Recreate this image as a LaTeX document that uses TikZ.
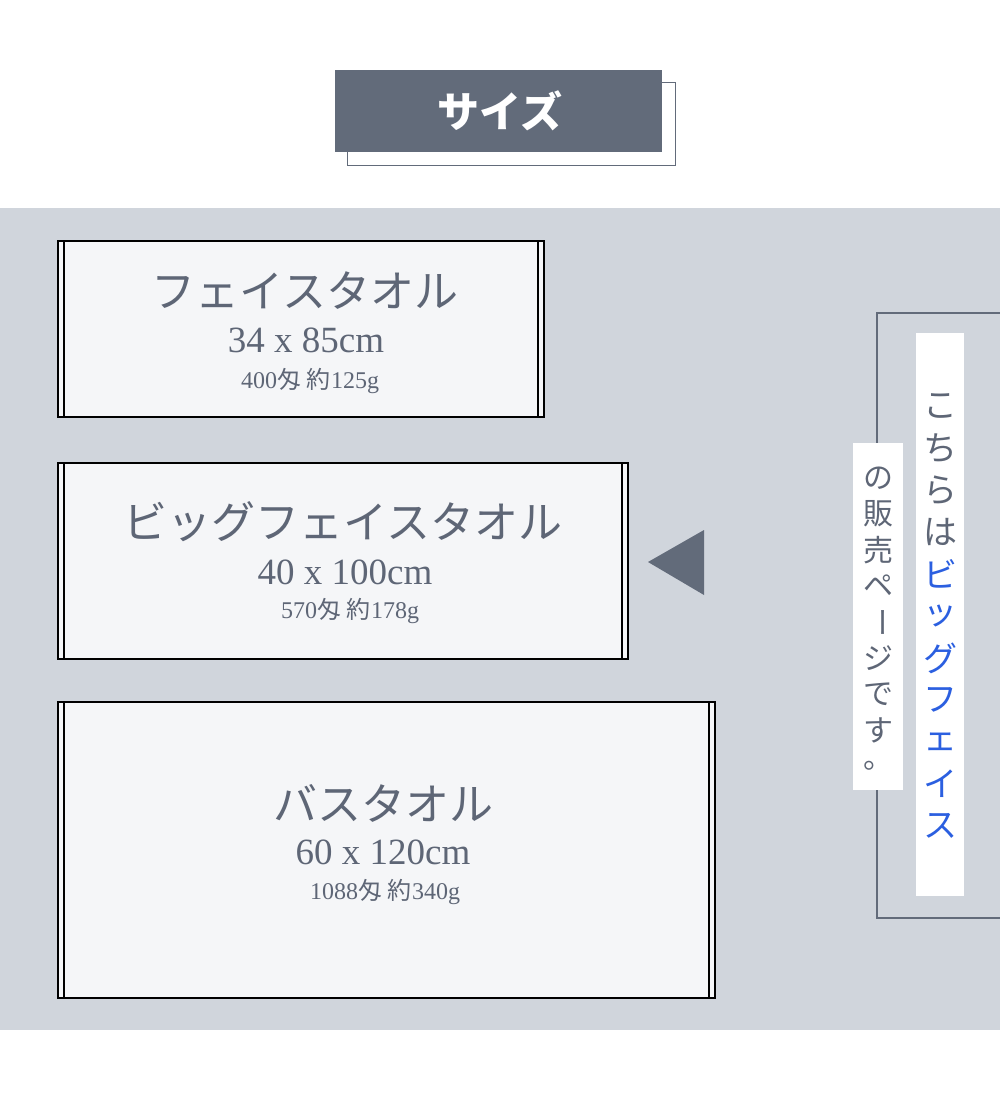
\documentclass[tikz,border=0pt]{standalone}
\usepackage{fontspec}
\setmainfont{Liberation Serif}
\newfontfamily\cjk{Noto Sans CJK JP}
\definecolor{band}{HTML}{D0D5DC}
\definecolor{dark}{HTML}{626B7A}
\definecolor{txt}{HTML}{5E6676}
\definecolor{towel}{HTML}{F5F6F8}
\definecolor{blu}{HTML}{2B5FE0}
\begin{document}
\begin{tikzpicture}[x=1pt,y=-1pt,
 towelbox/.style={draw=black,line width=1.6pt,fill=towel},
 edge/.style={black,line width=1.6pt},
 tname/.style={text=txt,font=\cjk\fontsize{44}{44}\selectfont},
 tdim/.style={text=txt,font=\fontsize{37}{37}\selectfont},
 twt/.style={text=txt,font=\fontsize{24}{24}\selectfont},
 vch/.style={font=\cjk\fontsize{34}{34}\selectfont,inner sep=0pt}]
\useasboundingbox (0,0) rectangle (1000,1100);
\fill[white] (0,0) rectangle (1000,1100);
% title
\draw[dark,line width=0.6pt] (347,82) rectangle (675,165);
\fill[dark] (335,70) rectangle (662,152);
\node[text=white,font=\cjk\bfseries\fontsize{42}{42}\selectfont] (title) at (500,111) {サイズ};
% band
\fill[band] (0,208) rectangle (1000,1030);
% towels
\foreach \xa/\xb/\ya/\yb/\n in {58/544/241/417/a,58/628/463/659/b,58/715/702/998/c}{
  \draw[towelbox] (\xa,\ya) rectangle (\xb,\yb);
  \draw[edge] (\xa+6,\ya) -- (\xa+6,\yb);
  \draw[edge] (\xb-6,\ya) -- (\xb-6,\yb);
}
\node[tname] (n1) at (305,291) {フェイスタオル};
\node[tdim] (d1) at (306,340) {34 x 85cm};
\node[twt] (w1) at (310,381) {400{\cjk 匁} {\cjk 約}125g};
\node[tname] (n2) at (343,522) {ビッグフェイスタオル};
\node[tdim] (d2) at (345,572) {40 x 100cm};
\node[twt] (w2) at (350,611) {570{\cjk 匁} {\cjk 約}178g};
\node[tname] (n3) at (383,803) {バスタオル};
\node[tdim] (d3) at (383,852) {60 x 120cm};
\node[twt] (w3) at (385,892) {1088{\cjk 匁} {\cjk 約}340g};
% arrow
\fill[dark] (648,562) -- (704,530) -- (704,595) -- cycle;
% right frame
\draw[dark,line width=1.2pt] (1000,313) -- (877,313) -- (877,918) -- (1000,918);
\fill[white] (916,333) rectangle (964,896);
\fill[white] (853,443) rectangle (903,790);
\foreach \c [count=\i] in {こ,ち,ら,は}
  \node[vch,text=txt] (r\i) at (940,364+42*\i) {\c};
\foreach \c [count=\i] in {ビ,ッ,グ,フ,ェ,イ,ス}
  \node[vch,text=blu] (b\i) at (940,532+42*\i) {\c};
\foreach \c [count=\i] in {の,販,売,ペ}
  \node[vch,text=txt,font=\cjk\fontsize{30}{30}\selectfont] (l\i) at (878,442+36*\i) {\c};
\node[vch,text=txt,rotate=-90,font=\cjk\fontsize{30}{30}\selectfont] (l5) at (878,622) {ー};
\foreach \c [count=\i] in {ジ,で,す,。}
  \node[vch,text=txt,font=\cjk\fontsize{30}{30}\selectfont] (m\i) at (878,622+36*\i) {\c};
\end{tikzpicture}
\end{document}
